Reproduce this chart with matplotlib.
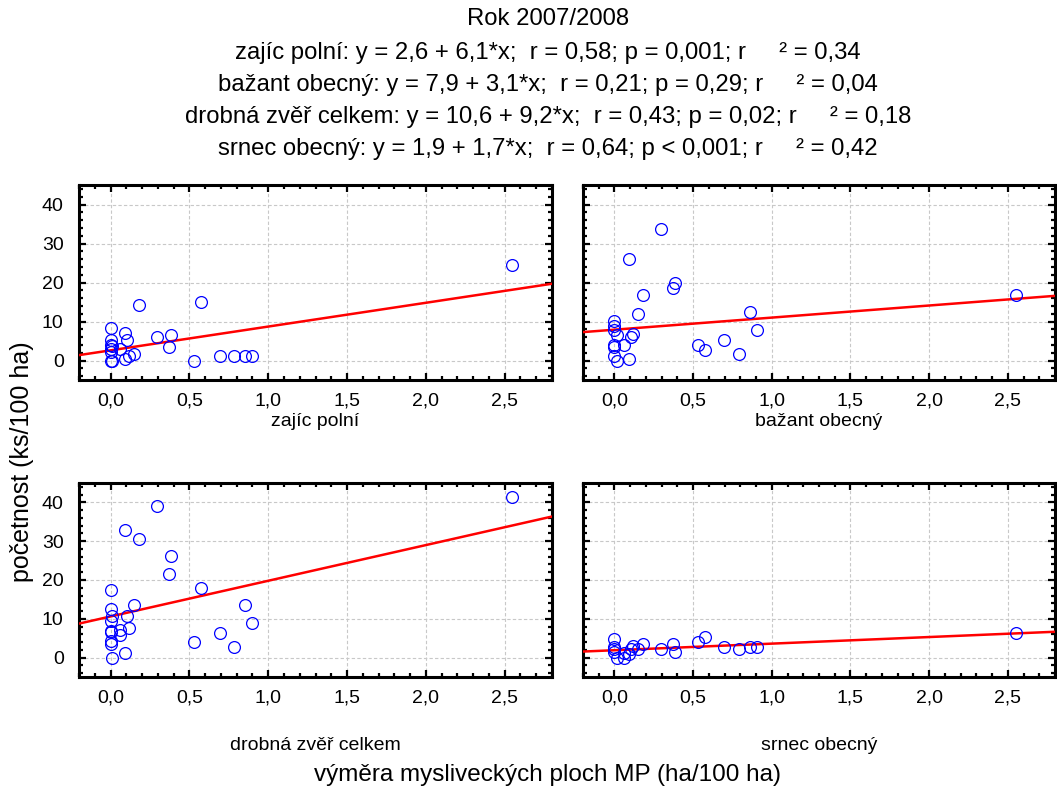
import matplotlib
matplotlib.use("Agg")
import matplotlib.pyplot as plt
import numpy as np
from matplotlib.ticker import MultipleLocator, FuncFormatter

plt.rcParams["font.family"] = ["Liberation Sans", "DejaVu Sans"]

# panel names and regression coefficients (from the title)
species = ["zajíc polní", "bažant obecný", "drobná zvěř celkem", "srnec obecný"]
intercepts = [2.6, 7.9, 10.6, 1.9]
slopes = [6.1, 3.1, 9.2, 1.7]
stats = [
    "r = 0,58; p = 0,001",
    "r = 0,21; p = 0,29",
    "r = 0,43; p = 0,02",
    "r = 0,64; p < 0,001",
]
r2 = ["0,34", "0,04", "0,18", "0,42"]

# zajíc polní
x_zajic = [0, 0, 0, 0.01, 0, 0, 0, 0.01, 0.06, 0.09, 0.105, 0.09, 0.12, 0.15, 0.18,
           0.295, 0.37, 0.385, 0.53, 0.575, 0.695, 0.78, 0.855, 0.9, 2.545]
y_zajic = [8.3, 5.3, 4.0, 3.7, 3.0, 2.1, 0.0, 0.0, 3.0, 7.0, 5.3, 0.4, 1.1, 1.6, 14.3,
           5.9, 3.4, 6.5, 0.0, 14.9, 1.1, 1.1, 1.1, 1.1, 24.5]

# bažant obecný
x_bazant = [0.295, 0.09, 0.385, 0.37, 0.18, 0.15, 0, 0, 0, 0.015, 0.12, 0.105, 0, 0.06,
            0, 0, 0.015, 0.09, 0.53, 0.575, 0.695, 0.79, 0.86, 0.905, 2.55]
y_bazant = [33.6, 25.9, 19.8, 18.5, 16.7, 11.9, 10.2, 8.8, 7.7, 6.5, 6.7, 5.9, 4.0, 4.0,
            3.4, 1.2, 0.0, 0.4, 4.1, 2.8, 5.3, 1.7, 12.5, 7.7, 16.9]

# drobná zvěř celkem
x_drobna = [2.545, 0.295, 0.09, 0.18, 0.385, 0.37, 0, 0.575, 0.15, 0.855, 0, 0.01, 0.105,
            0, 0.9, 0.12, 0.06, 0.06, 0, 0, 0, 0, 0.695, 0.53, 0.78, 0.09, 0.01]
y_drobna = [41.4, 39.0, 33.0, 30.5, 26.3, 21.5, 17.3, 17.9, 13.6, 13.6, 12.5, 10.8, 10.7,
            9.5, 8.8, 7.6, 7.1, 5.7, 6.9, 6.5, 4.2, 3.4, 6.4, 4.0, 2.8, 1.1, 0.0]

# srnec obecný
x_srnec = [0, 0, 0, 0, 0.015, 0.06, 0.06, 0.09, 0.105, 0.12, 0.15, 0.18, 0.295, 0.37,
           0.385, 0.53, 0.575, 0.695, 0.79, 0.86, 0.905, 2.55]
y_srnec = [4.7, 2.8, 2.2, 1.5, 0.0, 0.0, 1.1, 0.9, 2.3, 3.0, 2.1, 3.5, 2.2, 3.5,
           1.5, 4.1, 5.4, 2.8, 2.1, 2.8, 2.8, 6.4]

xs = [x_zajic, x_bazant, x_drobna, x_srnec]
ys = [y_zajic, y_bazant, y_drobna, y_srnec]

W, H = 1057, 792
fig = plt.figure(figsize=(W / 100, H / 100), dpi=100)

# panel boxes in pixels: left, right, top, bottom
boxes = [(79, 552, 185, 380), (583, 1055, 185, 380),
         (79, 552, 483, 677), (583, 1055, 483, 677)]
label_y = [421, 421, 745, 745]

comma = FuncFormatter(lambda v, p: f"{v:.1f}".replace(".", ","))

for i, (l, r, t, b) in enumerate(boxes):
    ax = fig.add_axes([l / W, 1 - b / H, (r - l) / W, (b - t) / H])
    ax.set_xlim(-0.2, 2.8)
    ax.set_ylim(-5, 45)
    ax.grid(True, color="#c8c8c8", linestyle=(0, (3, 2)), linewidth=0.8)
    ax.set_axisbelow(True)

    xx = np.array([-0.2, 2.8])
    ax.plot(xx, intercepts[i] + slopes[i] * xx, color="red", lw=1.8, zorder=3)
    ax.plot(xs[i], ys[i], "o", mfc="none", mec="#0000ff", ms=8.5, mew=0.9, zorder=4)

    ax.xaxis.set_major_locator(MultipleLocator(0.5))
    ax.xaxis.set_minor_locator(MultipleLocator(0.1))
    ax.yaxis.set_major_locator(MultipleLocator(10))
    ax.yaxis.set_minor_locator(MultipleLocator(2))
    ax.xaxis.set_major_formatter(comma)
    ax.tick_params(which="both", direction="in", top=True, right=True, width=1.6,
                   labelsize=14)
    ax.tick_params(axis="x", pad=9)
    ax.tick_params(axis="y", pad=11)
    ax.tick_params(which="major", length=5)
    ax.tick_params(which="minor", length=3)
    if i % 2 == 1:
        ax.tick_params(labelleft=False)
    for s in ax.spines.values():
        s.set_linewidth(2.2)

    fig.text((l + r) / 2 / W, 1 - label_y[i] / H, species[i], ha="center",
             va="center", fontsize=14)

titles = ["Rok 2007/2008"]
for i in range(4):
    titles.append(
        f"{species[i]}: y = {intercepts[i]:.1f} + {slopes[i]:.1f}*x; ".replace(".", ",")
        + f" {stats[i]}; r     ² = {r2[i]}"
    )
title_y = [19, 53, 85, 117, 149]
for txt, ty in zip(titles, title_y):
    fig.text(548 / W, 1 - ty / H, txt, ha="center", va="center", fontsize=17.2)

fig.text(22 / W, 1 - 462 / H, "početnost (ks/100 ha)", rotation=90, ha="center",
         va="center", fontsize=18)
fig.text(548 / W, 1 - 775 / H, "výměra mysliveckých ploch MP (ha/100 ha)", ha="center",
         va="center", fontsize=17.5)

fig.savefig("out.png", dpi=100)
